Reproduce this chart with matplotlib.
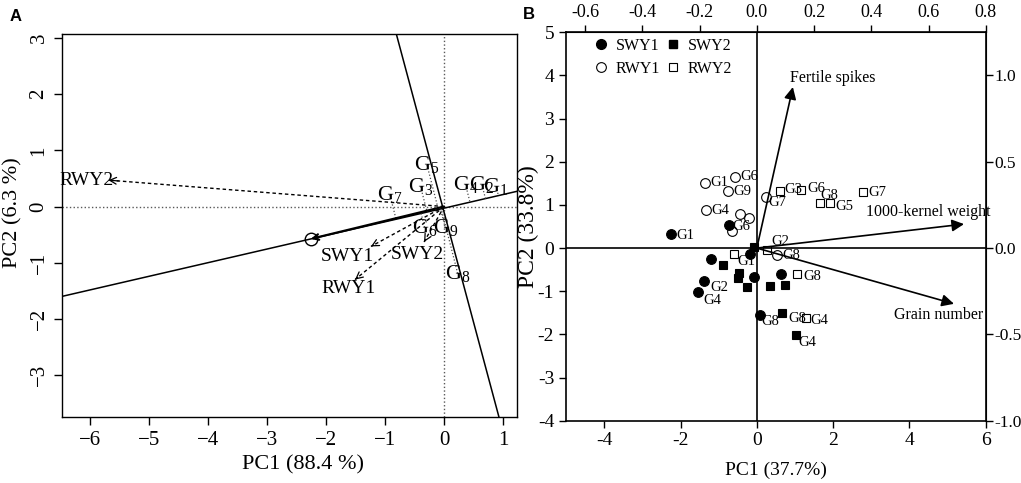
import numpy as np
import matplotlib.pyplot as plt
from matplotlib.ticker import FuncFormatter
from matplotlib.lines import Line2D

plt.rcParams['font.family'] = ['Liberation Serif', 'DejaVu Serif']
plt.rcParams['mathtext.fontset'] = 'custom'
plt.rcParams['mathtext.rm'] = 'Liberation Serif'
plt.rcParams['mathtext.it'] = 'Liberation Serif:italic'

# ---- panel A: GGE biplot (mean vs stability) ----
env_names = ["RWY2", "SWY1", "RWY1", "SWY2"]
env_x = [-5.69, -1.24, -1.51, -0.34]
env_y = [0.47, -0.71, -1.30, -0.63]
env_lab_x = [-6.06, -1.64, -1.62, -0.46]
env_lab_y = [0.47, -0.89, -1.45, -0.86]

geno_ids = ["1", "2", "3", "4", "5", "6", "7", "8", "9"]
geno_x = [0.88, 0.64, -0.40, 0.36, -0.29, -0.33, -0.92, 0.23, 0.02]
geno_y = [0.36, 0.39, 0.36, 0.40, 0.74, -0.37, 0.21, -1.19, -0.38]

aec_x = [-6.48, 1.23]
aec_y = [-1.60, 0.27]
perp_x = [-0.81, 0.93]
perp_y = [3.07, -3.75]
avg_env = (-2.26, -0.576)

# ---- panel B: PCA biplot ----
swy1_x = [-2.24, -0.74, -1.20, -1.39, -1.53, -0.18, -0.08, 0.64, 0.07]
swy1_y = [0.32, 0.53, -0.25, -0.77, -1.02, -0.14, -0.66, -0.60, -1.55]
swy1_lab = ["G1", "G6", "", "G2", "G4", "", "", "", "G8"]
swy2_x = [-0.08, -0.89, -0.46, -0.50, -0.25, 0.34, 0.75, 0.65, 1.03]
swy2_y = [0.03, -0.40, -0.58, -0.69, -0.90, -0.87, -0.85, -1.51, -2.01]
swy2_lab = ["", "", "", "", "", "", "", "G8", "G4"]
rwy1_x = [-1.35, -0.56, -0.75, -1.32, -0.43, -0.21, -0.66, 0.23, 0.53]
rwy1_y = [1.51, 1.65, 1.33, 0.89, 0.79, 0.69, 0.40, 1.18, -0.17]
rwy1_lab = ["G1", "G6", "G9", "G4", "", "", "", "G7", "G8"]
rwy2_x = [0.60, 1.16, 1.65, 1.91, 2.79, 0.27, -0.60, 1.05, 1.28]
rwy2_y = [1.33, 1.35, 1.04, 1.04, 1.31, -0.05, -0.13, -0.60, -1.61]
rwy2_lab = ["G3", "G6", "G8", "G5", "G7", "G2", "G1", "G8", "G4"]

trait_names = ["Fertile spikes", "1000-kernel weight", "Grain number"]
trait_pc1 = [0.126, 0.724, 0.689]
trait_pc2 = [0.933, 0.139, -0.323]

# label offsets in pixels (dx, dy) for each point label
off_swy1 = [(5, -1), (4, -1), None, (7, -6), (5, -8), None, None, None, (2, -7)]
off_swy2 = [None] * 7 + [(7, -5), (2, -8)]
off_rwy1 = [(5, 0), (5, 0), (5, -1), (5, -1), None, None, None, (3, -5), (5, 0)]
off_rwy2 = [(5, 1), (6, 1), (1, 8), (6, -3), (5, -1), (4, 9), (3, -8), (6, -3), (5, -3)]

fig = plt.figure(figsize=(10.21, 4.83), dpi=100)
axA = fig.add_axes([0.0604, 0.136, 0.4457, 0.7936])
axB = fig.add_axes([0.5544, 0.129, 0.4111, 0.8041])

# ---------- A ----------
axA.axhline(0, color="0.35", ls=":", lw=1.0)
axA.axvline(0, color="0.35", ls=":", lw=1.0)
axA.plot(aec_x, aec_y, color="black", lw=1.1)
axA.plot(perp_x, perp_y, color="black", lw=1.1)

# projections of genotypes onto the AEC line
p0 = np.array([aec_x[0], aec_y[0]])
d = np.array([aec_x[1] - aec_x[0], aec_y[1] - aec_y[0]])
d = d / np.linalg.norm(d)
for gx, gy, gid in zip(geno_x, geno_y, geno_ids):
    g = np.array([gx, gy])
    pr = p0 + np.dot(g - p0, d) * d
    axA.plot([gx, pr[0]], [gy, pr[1]], color="0.3", ls=":", lw=0.9)
    axA.text(gx, gy, r"$\mathrm{G}_{" + gid + "}$", fontsize=16,
             ha="center", va="center")

axA.annotate("", xy=avg_env, xytext=(0, 0),
             arrowprops=dict(arrowstyle="->", lw=1.6, color="black",
                             shrinkA=0, shrinkB=0, mutation_scale=10))
axA.plot(*avg_env, "o", mfc="none", mec="black", ms=9, mew=1.0)

for ex, ey, lx, ly, nm in zip(env_x, env_y, env_lab_x, env_lab_y, env_names):
    axA.plot([0, ex], [0, ey], color="black", ls=(0, (2.5, 2)), lw=1.0)
    axA.annotate("", xy=(ex, ey), xytext=(ex * 0.97, ey * 0.97),
                 arrowprops=dict(arrowstyle="->", lw=0.9, color="black",
                                 shrinkA=0, shrinkB=0, mutation_scale=12))
    axA.text(lx, ly, nm, fontsize=14, ha="center", va="center")

axA.set_xlim(-6.48, 1.23)
axA.set_ylim(-3.75, 3.07)
axA.set_xticks(range(-6, 2))
axA.set_yticks(range(-3, 4))
axA.tick_params(axis="both", labelsize=15, length=6, width=1.0)
axA.tick_params(axis="y", labelrotation=90)
for lab in axA.get_yticklabels():
    lab.set_va("center")
axA.set_xlabel("PC1 (88.4 %)", fontsize=16)
axA.set_ylabel("PC2 (6.3 %)", fontsize=16)
axA.xaxis.set_label_coords(0.53, -0.098)
axA.yaxis.set_label_coords(-0.087, 0.534)
for s in axA.spines.values():
    s.set_linewidth(1.0)

# ---------- B ----------
axB.axhline(0, color="black", lw=1.2)
axB.axvline(0, color="black", lw=1.2)

series = [
    (swy1_x, swy1_y, swy1_lab, off_swy1, "o", "black"),
    (swy2_x, swy2_y, swy2_lab, off_swy2, "s", "black"),
    (rwy1_x, rwy1_y, rwy1_lab, off_rwy1, "o", "none"),
    (rwy2_x, rwy2_y, rwy2_lab, off_rwy2, "s", "none"),
]
for xs, ys, labs, offs, mk, fc in series:
    ms = 7 if mk == "o" else 6
    axB.plot(xs, ys, ls="none", marker=mk, ms=ms, mfc=fc, mec="black",
             mew=0.8, zorder=3)
    for x, y, lab, off in zip(xs, ys, labs, offs):
        if lab:
            axB.annotate(lab, (x, y), xytext=off, textcoords="offset pixels",
                         fontsize=10.5, ha="left", va="center")

sx, sy = 7.5, 4.0
for px, py in zip(trait_pc1, trait_pc2):
    axB.annotate("", xy=(px * sx, py * sy), xytext=(0, 0),
                 arrowprops=dict(arrowstyle="-|>", lw=1.2, color="black",
                                 shrinkA=0, shrinkB=0, mutation_scale=18))
trait_lab_pos = [(0.88, 3.94), (2.87, 0.83), (3.59, -1.55)]
for nm, (tx, ty) in zip(trait_names, trait_lab_pos):
    axB.text(tx, ty, nm, fontsize=11.5, ha="left", va="center")

axB.set_xlim(-5, 6)
axB.set_ylim(-4, 5)
axB.set_xticks([-4, -2, 0, 2, 4, 6])
axB.set_yticks(range(-4, 6))
hy = FuncFormatter(lambda v, p: f"{v:g}")
axB.xaxis.set_major_formatter(hy)
axB.yaxis.set_major_formatter(hy)
axB.tick_params(axis="both", labelsize=14, length=5, width=1.0)

fmt1 = FuncFormatter(lambda v, p: f"{v:.1f}".replace("-0.0", "0.0"))
top = axB.secondary_xaxis("top", functions=(lambda v: v / sx, lambda v: v * sx))
top.set_xticks(np.arange(-0.6, 0.81, 0.2))
top.xaxis.set_major_formatter(fmt1)
top.tick_params(labelsize=13, length=5, width=1.0)
right = axB.secondary_yaxis("right", functions=(lambda v: v / sy, lambda v: v * sy))
right.set_yticks([-1.0, -0.5, 0.0, 0.5, 1.0])
right.yaxis.set_major_formatter(fmt1)
right.tick_params(labelsize=12.5, length=5, width=1.0, pad=1)

axB.set_xlabel("PC1 (37.7%)", fontsize=14)
axB.set_ylabel("PC2 (33.8%)", fontsize=17)
axB.xaxis.set_label_coords(0.5, -0.105)
axB.yaxis.set_label_coords(-0.065, 0.5)
for s in axB.spines.values():
    s.set_linewidth(1.2)

handles = [
    Line2D([], [], ls="none", marker="o", ms=7, mfc="black", mec="black"),
    Line2D([], [], ls="none", marker="o", ms=7, mfc="none", mec="black", mew=0.8),
    Line2D([], [], ls="none", marker="s", ms=6, mfc="black", mec="black"),
    Line2D([], [], ls="none", marker="s", ms=6, mfc="none", mec="black", mew=0.8),
]
axB.legend(handles, ["SWY1", "RWY1", "SWY2", "RWY2"], ncol=2, frameon=False,
           loc="upper left", bbox_to_anchor=(0.035, 1.023), fontsize=11.5,
           handlelength=0.8, handletextpad=0.5, columnspacing=0.4,
           labelspacing=0.45)

fig.text(0.0157, 0.965, "A", family="Liberation Sans", weight="bold",
         fontsize=12, ha="center", va="center")
fig.text(0.518, 0.969, "B", family="Liberation Sans", weight="bold",
         fontsize=12, ha="center", va="center")

fig.savefig("out.png", dpi=100)
